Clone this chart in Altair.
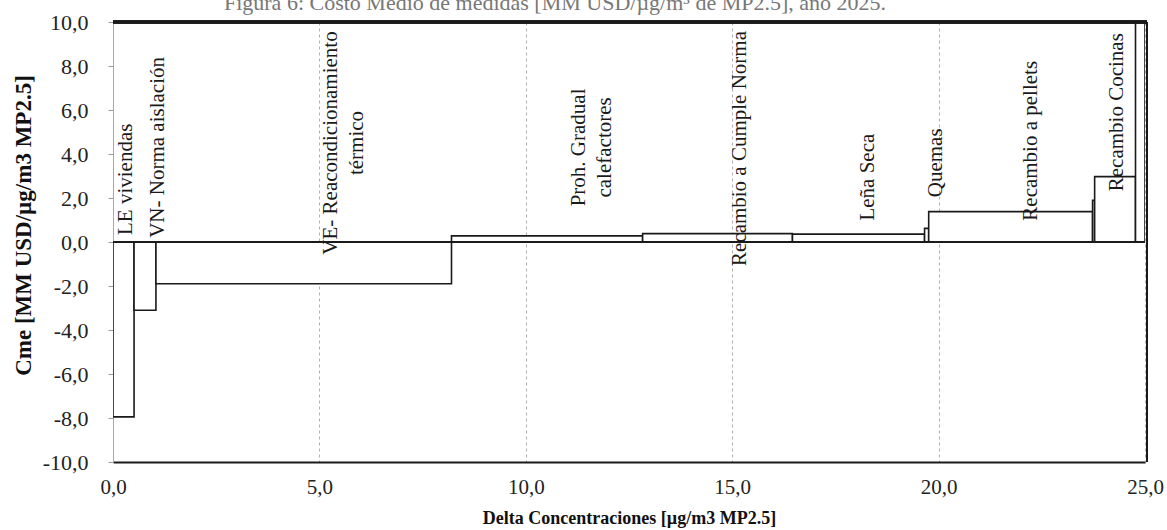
import altair as alt
import pandas as pd

# Step-bar data (x intervals in Delta Concentraciones, height = Cme)
x_start = [0.00, 0.51, 1.04, 8.20, 12.83, 16.46, 19.66, 19.76, 23.73, 23.78, 24.77]
x_end = [0.51, 1.04, 8.20, 12.83, 16.46, 19.66, 19.76, 23.73, 23.78, 24.77, 25.00]
cme = [-7.95, -3.10, -1.90, 0.28, 0.38, 0.36, 0.62, 1.38, 1.90, 2.97, 12.0]

# Measure labels
label_text = [
    "LE viviendas",
    "VN- Norma aislación",
    "VE- Reacondicionamiento\ntérmico",
    "Proh. Gradual\ncalefactores",
    "Recambio a Cumple Norma",
    "Leña Seca",
    "Quemas",
    "Recambio a pellets",
    "Recambio Cocinas",
]
label_x = [0.31, 1.08, 5.28, 11.30, 15.18, 18.28, 19.93, 22.23, 24.31]
label_y = [2.85, 4.30, 4.50, 4.30, 4.25, 2.95, 3.60, 4.60, 5.90]

x_ticks = [0, 5, 10, 15, 20, 25]
y_ticks = [-10, -8, -6, -4, -2, 0, 2, 4, 6, 8, 10]

title_text = "Figura 6: Costo Medio de medidas [MM USD/µg/m³ de MP2.5], año 2025."

SERIF = "Liberation Serif"
W, H = 1032, 440

bars_df = pd.DataFrame({"x0": x_start, "x1": x_end, "cme": cme})
labels_df = pd.DataFrame({"label": label_text, "lx": label_x, "ly": label_y})

xscale = alt.Scale(domain=[0, 25], nice=False, zero=False)
yscale = alt.Scale(domain=[-10, 10], nice=False, zero=False)
comma = "replace(replace(format(datum.value, '.1f'), '.', ','), '\u2212', '-')"

bars = alt.Chart(bars_df).mark_rect(
    fill="white", stroke="#1a1a1a", strokeWidth=1.6, clip=True
).encode(
    x=alt.X(
        "x0:Q",
        scale=xscale,
        axis=alt.Axis(
            values=x_ticks,
            labelExpr=comma,
            labelFlush=False,
            labelOverlap=False,
            title="Delta Concentraciones [µg/m3 MP2.5]",
            titleFont=SERIF,
            titleFontSize=18,
            titleFontWeight="bold",
            titleColor="#111",
            titleY=56,
            titleBaseline="middle",
            labelFont=SERIF,
            labelFontSize=21,
            labelColor="#222",
            labelPadding=14,
            ticks=False,
            grid=True,
            gridDash=[3, 3],
            gridColor="#b0b0b0",
            gridWidth=1,
            domainColor="#1a1a1a",
            domainWidth=2.2,
        ),
    ),
    x2="x1:Q",
    y=alt.Y(
        "cme:Q",
        scale=yscale,
        axis=alt.Axis(
            values=y_ticks,
            labelExpr=comma,
            labelFlush=False,
            labelOverlap=False,
            title="Cme [MM USD/µg/m3 MP2.5]",
            titleFont=SERIF,
            titleFontSize=23,
            titleFontWeight="bold",
            titleColor="#111",
            titleAngle=270,
            titleX=-90,
            titleY=203,
            titleAlign="center",
            titleBaseline="middle",
            labelFont=SERIF,
            labelFontSize=22,
            labelColor="#222",
            labelPadding=20,
            tickSize=5,
            tickColor="#999",
            grid=False,
            domainColor="#aaa",
            domainWidth=1,
        ),
    ),
    y2=alt.datum(0),
)

zero_line = alt.Chart(bars_df).mark_rule(color="#1a1a1a", strokeWidth=1.8).encode(
    y=alt.datum(0), x=alt.value(0), x2=alt.value(W)
)
top_line = alt.Chart(bars_df).mark_rule(color="#1a1a1a", strokeWidth=2.4).encode(
    y=alt.value(0), x=alt.value(0), x2=alt.value(W + 2)
)
right_line = alt.Chart(bars_df).mark_rule(color="#1a1a1a", strokeWidth=1.8).encode(
    x=alt.value(W + 2), y=alt.value(0), y2=alt.value(H)
)

labels = alt.Chart(labels_df).mark_text(
    angle=270,
    align="center",
    baseline="middle",
    font=SERIF,
    fontSize=21,
    lineBreak="\n",
    lineHeight=26,
    color="#1a1a1a",
).encode(x=alt.X("lx:Q"), y=alt.Y("ly:Q"), text="label:N")

title = alt.Chart(pd.DataFrame({"t": [title_text]})).mark_text(
    font=SERIF, fontSize=22, color="#777", align="center", baseline="alphabetic"
).encode(x=alt.value(442), y=alt.value(-12), text="t:N")

chart = (
    alt.layer(bars, zero_line, labels, top_line, right_line, title)
    .properties(
        width=W,
        height=H,
        padding={"left": 113, "top": 22, "right": 22, "bottom": 68},
        autosize=alt.AutoSizeParams(type="none"),
        background="white",
    )
    .configure_view(stroke=None)
)

chart.save("out.html", embed_options={"renderer": "svg", "actions": False})
